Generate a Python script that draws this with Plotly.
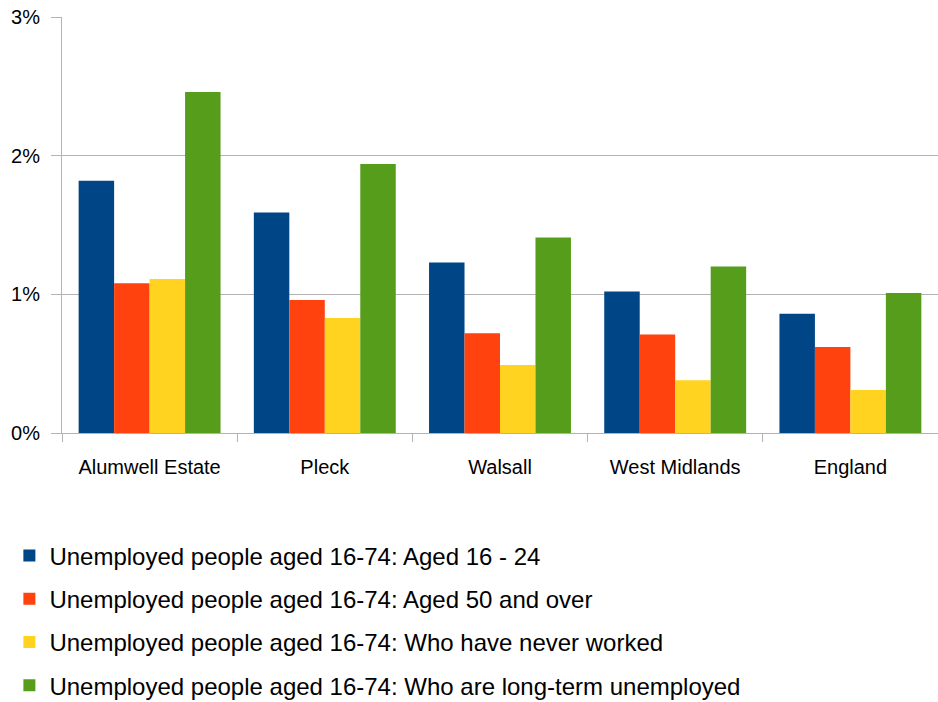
import plotly.graph_objects as go

categories = ["Alumwell Estate", "Pleck", "Walsall", "West Midlands", "England"]
series_names = [
    "Unemployed people aged 16-74: Aged 16 - 24",
    "Unemployed people aged 16-74: Aged 50 and over",
    "Unemployed people aged 16-74: Who have never worked",
    "Unemployed people aged 16-74: Who are long-term unemployed",
]
aged_16_24 = [1.82, 1.59, 1.23, 1.02, 0.86]
aged_50_over = [1.08, 0.96, 0.72, 0.71, 0.62]
never_worked = [1.11, 0.83, 0.49, 0.38, 0.31]
long_term = [2.46, 1.94, 1.41, 1.20, 1.01]
colors = ["#004586", "#ff420e", "#ffd320", "#579d1c"]
y_ticks = [0, 1, 2, 3]
y_tick_labels = ["0%", "1%", "2%", "3%"]

FONT = "Liberation Sans Narrow, Liberation Sans, Arial, sans-serif"

fig = go.Figure()
for i, (name, vals) in enumerate(zip(series_names, [aged_16_24, aged_50_over, never_worked, long_term])):
    fig.add_trace(go.Bar(
        x=categories, y=vals, name=name, marker_color=colors[i],
        marker_line_width=0, legendgroup=f"g{i}",
        hovertemplate="%{x}: %{y:.2f}%<extra></extra>",
    ))

fig.update_layout(
    width=938, height=702,
    margin=dict(l=62, r=0, t=17, b=269, autoexpand=False),
    paper_bgcolor="white", plot_bgcolor="white",
    barmode="group", bargap=0.19, bargroupgap=0,
    font=dict(family=FONT, color="#000000"),
    legend=dict(
        orientation="v", xref="container", yref="container",
        x=0.01, y=0.24, xanchor="left", yanchor="top",
        font=dict(size=24, family=FONT), tracegroupgap=9,
        bgcolor="rgba(0,0,0,0)",
    ),
    xaxis=dict(
        type="category", tickson="boundaries", ticks="outside", ticklen=8,
        tickcolor="#b3b3b3", showgrid=False, showline=True, linecolor="#b3b3b3",
        tickfont=dict(size=20, family=FONT), ticklabelstandoff=16, tickangle=0,
    ),
    yaxis=dict(
        range=[0, 3], tickvals=y_ticks, ticktext=y_tick_labels,
        ticks="outside", ticklen=10, tickcolor="#b3b3b3",
        showgrid=True, gridcolor="#b3b3b3", gridwidth=1,
        showline=True, linecolor="#b3b3b3", zeroline=False,
        tickfont=dict(size=20, family=FONT), ticklabelstandoff=7,
        ticklabeloverflow="allow",
    ),
)

fig.write_html("out.html", config={"displayModeBar": False},
               post_script="document.body.style.margin='0';")
